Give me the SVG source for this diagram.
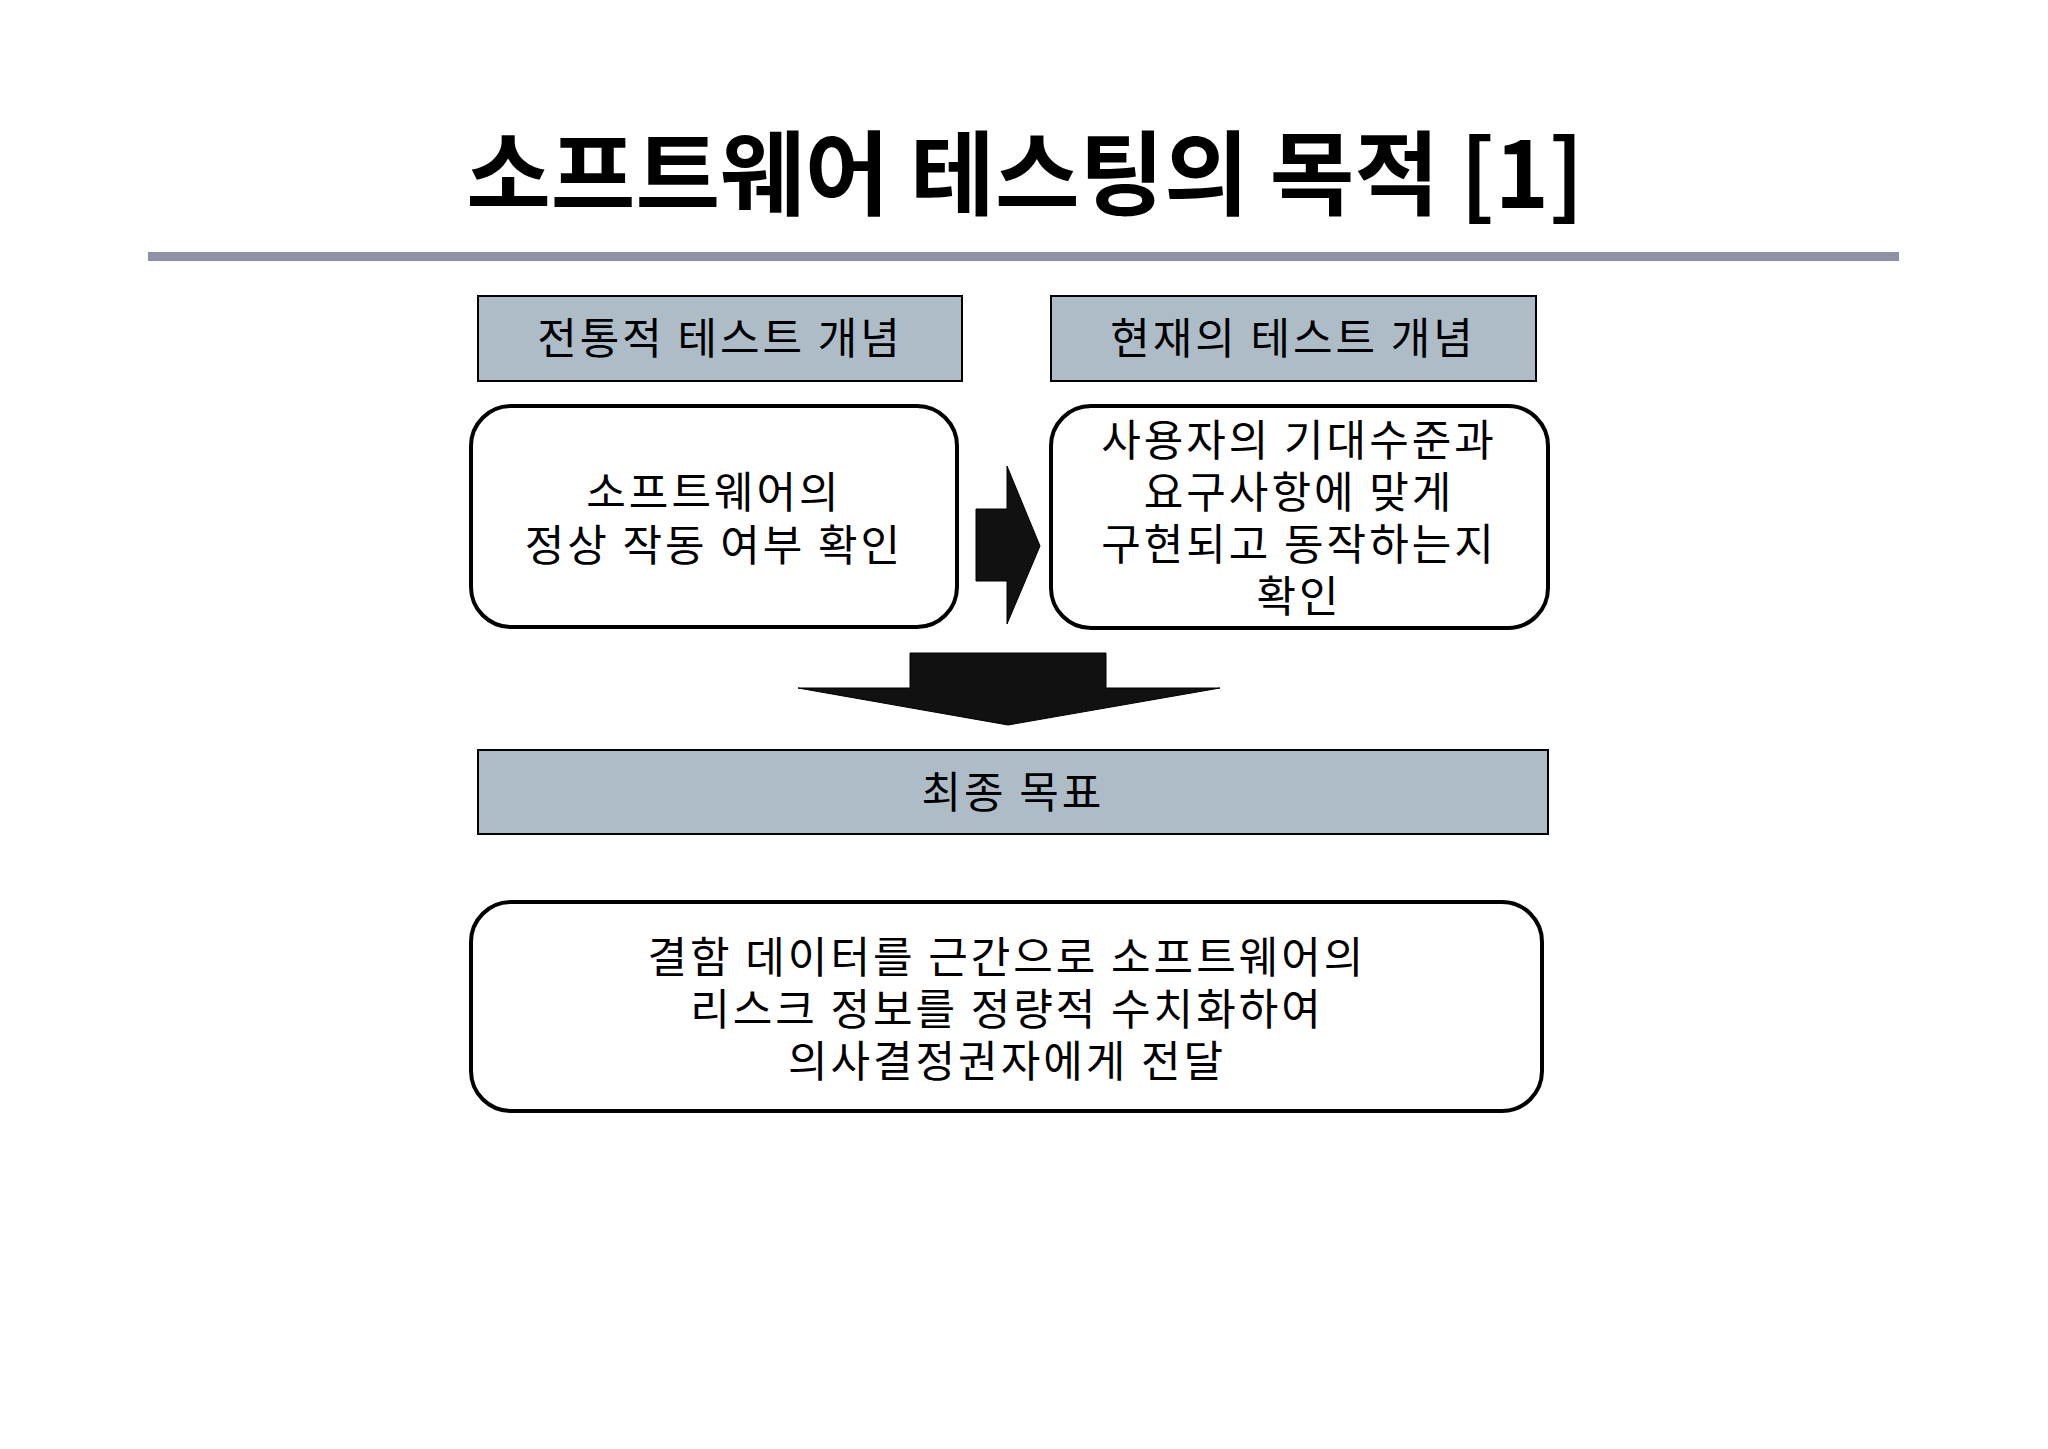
<svg xmlns="http://www.w3.org/2000/svg" width="2048" height="1449" viewBox="0 0 2048 1449">
<style>
.t{font-family:"Noto Sans CJK KR","Noto Sans",sans-serif;font-size:43px;letter-spacing:3px;fill:#000;text-anchor:middle}
.hd{fill:#adbcc6;stroke:#000;stroke-width:2}
.rb{fill:#fff;stroke:#000;stroke-width:4}
</style>
<rect width="2048" height="1449" fill="#fff"/>
<text x="1025" y="208" font-family="'Noto Sans CJK KR',sans-serif" font-weight="bold" font-size="92" text-anchor="middle">소프트웨어 테스팅의 목적 [1]</text>
<rect x="148" y="252" width="1751" height="9" fill="#9090a8"/>
<g id="h1"><rect class="hd" x="478" y="296" width="484" height="85"/><text class="t" x="720" y="354">전통적 테스트 개념</text></g>
<g id="h2"><rect class="hd" x="1051" y="296" width="485" height="85"/><text class="t" x="1293" y="354">현재의 테스트 개념</text></g>
<g id="b1"><rect class="rb" x="471" y="406" width="486" height="221" rx="40"/><text class="t" x="714" y="508">소프트웨어의</text><text class="t" x="714" y="561">정상 작동 여부 확인</text></g>
<g id="b2"><rect class="rb" x="1051" y="406" width="497" height="222" rx="40"/><text class="t" x="1299" y="456">사용자의 기대수준과</text><text class="t" x="1299" y="508">요구사항에 맞게</text><text class="t" x="1299" y="560">구현되고 동작하는지</text><text class="t" x="1299" y="612">확인</text></g>
<g id="h3"><rect class="hd" x="478" y="750" width="1070" height="84"/><text class="t" x="1013" y="808">최종 목표</text></g>
<g id="b3"><rect class="rb" x="471" y="902" width="1071" height="209" rx="40"/><text class="t" x="1007" y="973">결함 데이터를 근간으로 소프트웨어의</text><text class="t" x="1007" y="1025">리스크 정보를 정량적 수치화하여</text><text class="t" x="1007" y="1077">의사결정권자에게 전달</text></g>
<g id="connectors">
<polygon points="976,509 1007,509 1007,466 1040,546 1007,624 1007,581 976,581" fill="#111" stroke="#000"/>
<polygon points="910,653 1106,653 1106,688 1220,688 1008,725 798,688 910,688" fill="#111" stroke="#000"/>
</g>
</svg>
